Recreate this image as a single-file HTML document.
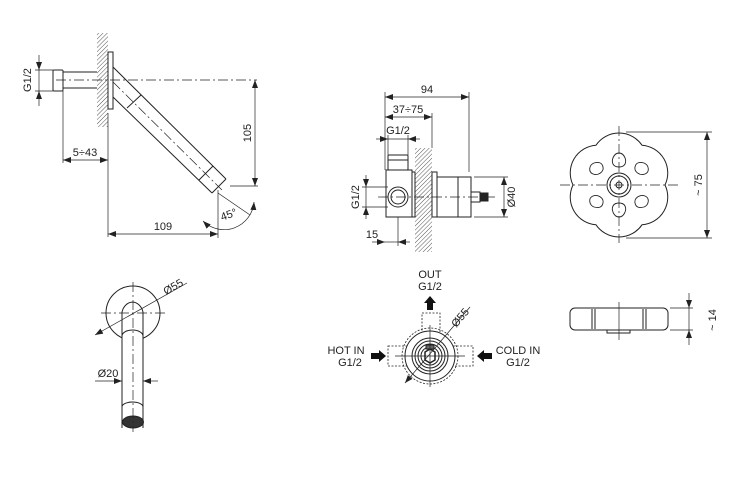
<!DOCTYPE html>
<html><head><meta charset="utf-8"><style>
html,body{margin:0;padding:0;background:#fff;width:744px;height:487px;overflow:hidden}
svg{display:block}
text{font-family:"Liberation Sans",sans-serif;font-size:11px;fill:#222}
</style></head><body>
<svg width="744" height="487" viewBox="0 0 744 487" xmlns="http://www.w3.org/2000/svg">
<defs>
<pattern id="h" width="3" height="3" patternUnits="userSpaceOnUse" patternTransform="rotate(45)">
<line x1="0" y1="0" x2="0" y2="3" stroke="#555" stroke-width="1"/></pattern>
<marker id="a" markerWidth="8" markerHeight="6" refX="8" refY="3" orient="auto-start-reverse" markerUnits="userSpaceOnUse">
<path d="M0,0 L8,3 L0,6z" fill="#222"/></marker>
</defs>
<g stroke="#222" stroke-width="1" fill="none">
<!-- ===== View 1 ===== -->
<rect x="97" y="33" width="11" height="94" fill="url(#h)" stroke="none"/>
<rect x="108" y="52" width="5" height="57" fill="#fff"/>
<rect x="53" y="70" width="10" height="21" rx="1"/>
<line x1="63" y1="72" x2="97" y2="72"/><line x1="63" y1="88" x2="97" y2="88"/>
<line x1="56" y1="80" x2="257" y2="80" stroke-dasharray="10,3,2,3" stroke-width="0.7"/>
<line x1="113" y1="67" x2="226" y2="179"/><line x1="113" y1="97" x2="212" y2="193"/>
<line x1="226" y1="179" x2="212" y2="193"/>
<line x1="141" y1="95" x2="127" y2="108"/><line x1="213" y1="166" x2="199" y2="180"/>
<line x1="113" y1="82" x2="222" y2="190" stroke-dasharray="10,3,2,3" stroke-width="0.7"/>
<line x1="230" y1="186" x2="258" y2="186" stroke-width="0.7"/>
<line x1="255" y1="80" x2="255" y2="186" stroke-width="0.7" marker-start="url(#a)" marker-end="url(#a)"/>
<line x1="35" y1="70" x2="53" y2="70" stroke-width="0.7"/><line x1="35" y1="91" x2="53" y2="91" stroke-width="0.7"/>
<line x1="39" y1="55" x2="39" y2="70" stroke-width="0.7" marker-end="url(#a)"/>
<line x1="39" y1="106" x2="39" y2="91" stroke-width="0.7" marker-end="url(#a)"/>
<line x1="39" y1="70" x2="39" y2="91" stroke-width="0.7"/>
<line x1="63" y1="91" x2="63" y2="163" stroke-width="0.7"/>
<line x1="108" y1="113" x2="108" y2="237" stroke-width="0.7"/>
<line x1="63" y1="160" x2="108" y2="160" stroke-width="0.7" marker-start="url(#a)" marker-end="url(#a)"/>
<line x1="218" y1="190" x2="218" y2="238" stroke-width="0.7"/>
<line x1="108" y1="234" x2="218" y2="234" stroke-width="0.7" marker-start="url(#a)" marker-end="url(#a)"/>
<line x1="218" y1="193" x2="250" y2="215" stroke-width="0.7"/>
<path d="M203,221 A30,30 0 0 0 254,202" stroke-width="0.7" marker-start="url(#a)" marker-end="url(#a)"/>
<!-- ===== View 2 ===== -->
<rect x="415" y="148" width="17" height="104" fill="url(#h)" stroke="none"/>
<rect x="388" y="155" width="20" height="15" rx="1"/>
<line x1="388" y1="160" x2="408" y2="160"/>
<rect x="386" y="170" width="26" height="47" fill="#fff"/>
<circle cx="398" cy="197" r="10"/><circle cx="398" cy="197" r="7"/>
<rect x="412" y="172" width="3" height="45" fill="#fff"/>
<rect x="432" y="172" width="5" height="45" fill="#fff"/>
<rect x="437" y="177" width="34" height="40" fill="#fff"/>
<line x1="458" y1="177" x2="458" y2="217"/>
<rect x="471" y="192" width="9" height="10"/>
<rect x="480" y="193" width="8" height="8" fill="#222"/>
<line x1="378" y1="197" x2="495" y2="197" stroke-dasharray="10,3,2,3" stroke-width="0.7"/>
<line x1="385" y1="92" x2="385" y2="170" stroke-width="0.7"/>
<line x1="469" y1="92" x2="469" y2="172" stroke-width="0.7"/>
<line x1="432" y1="113" x2="432" y2="148" stroke-width="0.7"/>
<line x1="385" y1="97" x2="469" y2="97" stroke-width="0.7" marker-start="url(#a)" marker-end="url(#a)"/>
<line x1="385" y1="117" x2="432" y2="117" stroke-width="0.7" marker-start="url(#a)" marker-end="url(#a)"/>
<line x1="388" y1="135" x2="388" y2="155" stroke-width="0.7"/><line x1="408" y1="135" x2="408" y2="155" stroke-width="0.7"/>
<line x1="376" y1="139" x2="388" y2="139" stroke-width="0.7" marker-end="url(#a)"/>
<line x1="420" y1="139" x2="408" y2="139" stroke-width="0.7" marker-end="url(#a)"/>
<line x1="388" y1="139" x2="408" y2="139" stroke-width="0.7"/>
<line x1="362" y1="187" x2="388" y2="187" stroke-width="0.7"/><line x1="362" y1="207" x2="388" y2="207" stroke-width="0.7"/>
<line x1="366" y1="175" x2="366" y2="187" stroke-width="0.7" marker-end="url(#a)"/>
<line x1="366" y1="219" x2="366" y2="207" stroke-width="0.7" marker-end="url(#a)"/>
<line x1="366" y1="187" x2="366" y2="207" stroke-width="0.7"/>
<line x1="398" y1="217" x2="398" y2="246" stroke-width="0.7"/>
<line x1="372" y1="242" x2="385" y2="242" stroke-width="0.7" marker-end="url(#a)"/>
<line x1="410" y1="242" x2="398" y2="242" stroke-width="0.7" marker-end="url(#a)"/>
<line x1="385" y1="242" x2="398" y2="242" stroke-width="0.7"/>
<line x1="474" y1="177" x2="508" y2="177" stroke-width="0.7"/><line x1="474" y1="217" x2="508" y2="217" stroke-width="0.7"/>
<line x1="504" y1="177" x2="504" y2="217" stroke-width="0.7" marker-start="url(#a)" marker-end="url(#a)"/>
<!-- ===== View 3: handle ===== -->
<path d="M665,185 A27.8,27.8 0 0 0 642,145.2 A27.8,27.8 0 0 0 596,145.2 A27.8,27.8 0 0 0 573,185 A27.8,27.8 0 0 0 596,224.8 A27.8,27.8 0 0 0 642,224.8 A27.8,27.8 0 0 0 665,185Z"/>
<g stroke-width="0.9">
<path d="M619,153 C614,153 611,160 613,164 C615,168 623,168 625,164 C627,160 624,153 619,153Z"/>
<path d="M619,217 C614,217 611,210 613,206 C615,202 623,202 625,206 C627,210 624,217 619,217Z"/>
<path d="M594,163 C589,165 588,172 593,174 C598,176 604,172 603,167 C602,162 598,162 594,163Z"/>
<path d="M644,163 C649,165 650,172 645,174 C640,176 634,172 635,167 C636,162 640,162 644,163Z"/>
<path d="M594,207 C589,205 588,198 593,196 C598,194 604,198 603,203 C602,208 598,208 594,207Z"/>
<path d="M644,207 C649,205 650,198 645,196 C640,194 634,198 635,203 C636,208 640,208 644,207Z"/>
</g>
<circle cx="619" cy="185" r="12"/><circle cx="619" cy="185" r="9"/><circle cx="619" cy="185" r="3"/>
<line x1="560" y1="185" x2="678" y2="185" stroke-dasharray="10,3,2,3" stroke-width="0.7"/>
<line x1="619" y1="126" x2="619" y2="243" stroke-dasharray="10,3,2,3" stroke-width="0.7"/>
<line x1="626" y1="132" x2="712" y2="132" stroke-width="0.7"/><line x1="626" y1="238" x2="712" y2="238" stroke-width="0.7"/>
<line x1="707" y1="132" x2="707" y2="238" stroke-width="0.7" marker-start="url(#a)" marker-end="url(#a)"/>
<rect x="570" y="308" width="98" height="22" rx="5"/>
<line x1="592" y1="309" x2="592" y2="329"/><line x1="595" y1="309" x2="595" y2="329"/>
<line x1="643" y1="309" x2="643" y2="329"/><line x1="646" y1="309" x2="646" y2="329"/>
<rect x="607" y="330" width="23" height="3"/>
<line x1="619" y1="302" x2="619" y2="340" stroke-width="0.7"/>
<line x1="670" y1="308" x2="693" y2="308" stroke-width="0.7"/><line x1="670" y1="330" x2="693" y2="330" stroke-width="0.7"/>
<line x1="689" y1="293" x2="689" y2="308" stroke-width="0.7" marker-end="url(#a)"/>
<line x1="689" y1="345" x2="689" y2="330" stroke-width="0.7" marker-end="url(#a)"/>
<line x1="689" y1="308" x2="689" y2="330" stroke-width="0.7"/>
<!-- ===== View 4 ===== -->
<circle cx="133" cy="313" r="27"/>
<path d="M122,428 L122,312 A11,14 0 0 1 143,312 L143,428" fill="#fff"/>
<path d="M122,336 A10.5,6 0 0 1 143,336"/>
<path d="M122,407 A10.5,5 0 0 1 143,407"/>
<ellipse cx="133" cy="422" rx="10.5" ry="6" fill="#333"/>
<line x1="101" y1="313" x2="166" y2="313" stroke-dasharray="10,3,2,3" stroke-width="0.7"/>
<line x1="133" y1="282" x2="133" y2="432" stroke-dasharray="10,3,2,3" stroke-width="0.7"/>
<line x1="95" y1="335" x2="187" y2="283" stroke-width="0.7" marker-start="url(#a)"/>
<line x1="95" y1="381" x2="122" y2="381" stroke-width="0.7" marker-end="url(#a)"/>
<line x1="158" y1="381" x2="143" y2="381" stroke-width="0.7" marker-end="url(#a)"/>
<!-- ===== View 5 ===== -->
<g stroke-dasharray="2,1.5" stroke-width="0.8">
<rect x="422" y="313" width="18" height="24"/>
<rect x="388" y="346" width="19" height="20"/>
<rect x="453" y="346" width="20" height="20"/>
<circle cx="430" cy="356" r="28"/>
</g>
<circle cx="430" cy="356" r="25" fill="#fff"/>
<circle cx="430" cy="356" r="18"/><circle cx="430" cy="356" r="15"/><circle cx="430" cy="356" r="12"/><circle cx="430" cy="356" r="9"/>
<path d="M425,352 L430,349 L435,352 L435,360 L430,363 L425,360Z" stroke-width="1.5"/>
<rect x="426" y="345" width="8" height="4" fill="#666"/>
<line x1="395" y1="356" x2="465" y2="356" stroke-width="0.7"/>
<line x1="430" y1="325" x2="430" y2="387" stroke-width="0.7"/>
<line x1="405" y1="383" x2="470" y2="307" stroke-width="0.7" marker-start="url(#a)"/>
</g>
<g fill="#111">
<path d="M427,310 L427,303 L424,303 L430,296 L436,303 L433,303 L433,310Z"/>
<path d="M371,353 L379,353 L379,350 L386,356 L379,362 L379,359 L371,359Z"/>
<path d="M492,353 L484,353 L484,350 L477,356 L484,362 L484,359 L492,359Z"/>
</g>
<text x="28" y="80" transform="rotate(-90 28 80)" text-anchor="middle" dominant-baseline="middle">G1/2</text>
<text x="85" y="156" text-anchor="middle">5÷43</text>
<text x="248" y="133" transform="rotate(-90 248 133)" text-anchor="middle" dominant-baseline="middle">105</text>
<text x="163" y="230" text-anchor="middle">109</text>
<text x="230" y="218" transform="rotate(-20 230 218)" text-anchor="middle">45°</text>
<text x="427" y="93" text-anchor="middle">94</text>
<text x="408" y="113" text-anchor="middle">37÷75</text>
<text x="398" y="134" text-anchor="middle">G1/2</text>
<text x="356" y="197" transform="rotate(-90 356 197)" text-anchor="middle" dominant-baseline="middle">G1/2</text>
<text x="372" y="238" text-anchor="middle">15</text>
<text x="512" y="197" transform="rotate(-90 512 197)" text-anchor="middle" dominant-baseline="middle">Ø40</text>
<text x="699" y="185" transform="rotate(-90 699 185)" text-anchor="middle" dominant-baseline="middle">~ 75</text>
<text x="713" y="320" transform="rotate(-90 713 320)" text-anchor="middle" dominant-baseline="middle">~ 14</text>
<text x="175" y="290" transform="rotate(-30 175 290)" text-anchor="middle">Ø55</text>
<text x="108" y="377" text-anchor="middle">Ø20</text>
<text x="430" y="278" text-anchor="middle">OUT</text>
<text x="430" y="290" text-anchor="middle">G1/2</text>
<text x="346" y="354" text-anchor="middle">HOT IN</text>
<text x="350" y="366" text-anchor="middle">G1/2</text>
<text x="518" y="354" text-anchor="middle">COLD IN</text>
<text x="518" y="366" text-anchor="middle">G1/2</text>
<text x="463" y="320" transform="rotate(-50 463 320)" text-anchor="middle">Ø55</text>
</svg>
</body></html>
